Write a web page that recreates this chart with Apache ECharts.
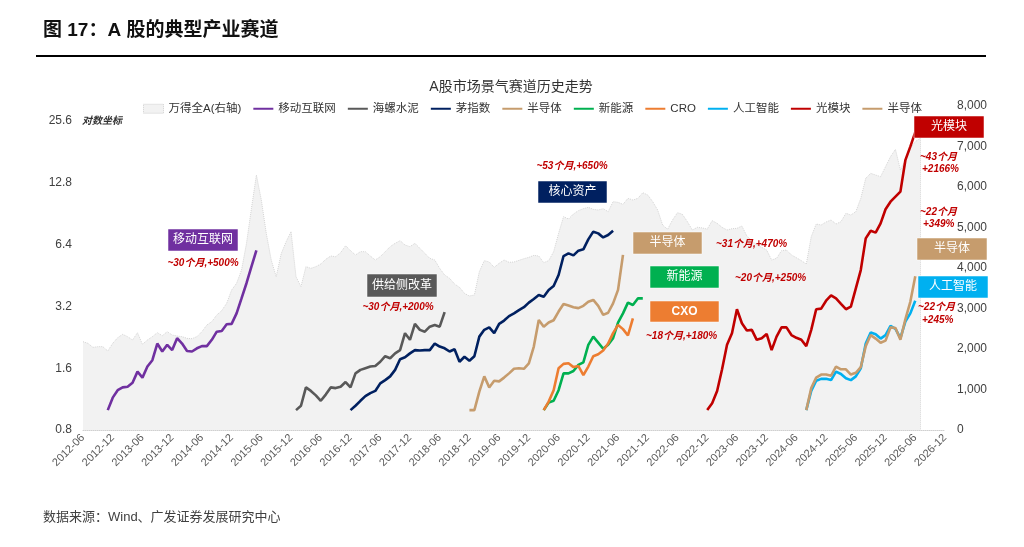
<!DOCTYPE html>
<html><head><meta charset="utf-8">
<script src="https://cdn.jsdelivr.net/npm/echarts@6/dist/echarts.min.js"></script>
<style>html,body{margin:0;padding:0;background:#fff}#c{width:1024px;height:547px}</style>
</head><body><div id="c"></div>
<script>
// ---- categories (monthly, 2012-06 .. 2026-12) ----
const months = [];
for (let i = 0; i < 175; i++) { const t = 2012 * 12 + 5 + i; months.push(Math.floor(t / 12) + '-' + String(t % 12 + 1).padStart(2, '0')); }

// ---- left (log) axis tick labels ----
const leftTicks = [0.8, 1.6, 3.2, 6.4, 12.8, 25.6];
const logUnit = leftTicks[0];

// ---- Wind All A (right axis), from 2012-06 ----
const windStart = '2012-06';
const windA = [2181,2140,2041,2058,2058,1951,2140,2280,2362,2305,2222,2403,2115,2222,2305,2403,2329,2428,2346,2321,
2305,2263,2255,2305,2428,2593,2675,2840,2947,3128,3457,3621,3951,4609,5473,6296,5679,4856,4198,3786,
4350,4650,4900,3786,3539,4033,3992,4033,4099,4214,4296,4280,4379,4551,4428,4321,4403,4403,4296,4198,
4280,4403,4527,4609,4675,4568,4527,4609,4486,4362,4239,4198,3992,3827,3745,3605,3523,3374,3309,3333,
3909,4181,4150,4016,4115,4198,4140,4148,4189,4230,4263,4313,4296,4132,4181,4403,4856,5267,5210,5333,
5416,5465,5498,5449,5432,5465,5391,5638,5621,5572,5720,5679,5720,5860,5802,5638,5432,5062,4955,5185,
5366,5325,5144,4938,5004,4990,4960,5169,5103,5004,4938,4971,4979,5037,4790,4675,4568,4510,4444,4198,
4239,4428,4444,4321,4255,4181,4099,4774,5086,5062,5136,5185,5086,5144,5350,5309,5391,5720,6214,6337,
6296,6255,6502,6749,6930,6420,6667,6955,7119,7202];

// ---- sector lines (left log axis), start month + values ----
const mobileStart = '2012-11';
const mobile = [1.00,1.15,1.25,1.29,1.30,1.36,1.54,1.44,1.63,1.75,2.11,1.93,2.08,1.96,2.24,2.11,1.94,1.93,2.00,2.05,2.05,2.20,2.41,2.43,2.62,2.63,2.96,3.50,4.15,5.00,6.00];
const conchStart = '2016-01';
const conch = [1.00,1.05,1.29,1.24,1.18,1.11,1.19,1.29,1.28,1.30,1.37,1.29,1.51,1.57,1.60,1.63,1.64,1.72,1.83,1.79,1.89,1.96,2.37,2.20,2.63,2.46,2.41,2.55,2.60,2.55,3.00];
const maoStart = '2016-12';
const mao = [1.00,1.05,1.11,1.17,1.21,1.24,1.35,1.40,1.46,1.57,1.77,1.81,1.89,1.96,1.95,1.96,1.96,2.11,2.04,2.00,1.93,1.98,1.72,1.82,1.74,1.83,2.28,2.46,2.53,2.37,2.63,
2.73,2.87,2.96,3.07,3.17,3.34,3.48,3.64,3.57,3.85,4.02,4.55,5.63,5.80,5.67,5.98,6.07,6.79,7.40,7.26,6.94,7.13,7.48];
const semi1Start = '2018-12';
const semi1 = [1.00,1.00,1.23,1.46,1.29,1.39,1.38,1.44,1.51,1.59,1.60,1.59,1.69,2.04,2.75,2.55,2.67,2.74,3.02,3.29,3.23,3.17,3.14,3.22,3.37,3.44,3.22,2.91,2.98,3.31,3.85,5.70];
const newEnergyStart = '2020-03';
const newEnergy = [1.00,1.09,1.11,1.25,1.51,1.51,1.55,1.66,1.71,2.08,2.28,2.13,1.99,2.08,2.24,2.67,2.96,3.34,3.25,3.50,3.50];
const cxoStart = '2020-03';
const cxo = [1.00,1.10,1.25,1.60,1.68,1.69,1.62,1.64,1.48,1.63,1.83,1.87,1.95,2.11,2.37,2.60,2.48,2.31,2.80];
const aiStart = '2024-08';
const ai = [1.00,1.24,1.39,1.42,1.42,1.40,1.54,1.50,1.43,1.40,1.46,1.60,2.11,2.39,2.34,2.23,2.32,2.57,2.49,2.24,2.70,2.96,3.41];
const opticStart = '2022-12';
const optic = [1.00,1.08,1.24,1.58,2.08,2.37,3.10,2.65,2.44,2.46,2.20,2.24,2.35,1.96,2.28,2.53,2.53,2.32,2.25,2.20,2.05,2.46,3.10,3.12,3.41,3.62,3.50,3.29,3.10,3.19,3.92,4.81,6.86,7.48,7.32,8.12,9.51,10.36,10.96,11.59,16.5,19.2,22.6];
const semi2Start = '2024-08';
const semi2 = [1.00,1.28,1.44,1.49,1.49,1.47,1.63,1.58,1.58,1.49,1.52,1.62,2.05,2.32,2.23,2.13,2.18,2.53,2.51,2.20,2.77,3.37,4.49];

// ---- right axis ----
const rightMin = 0, rightMax = 8000, rightStep = 1000;

function place(start, vals, scale) {
  const out = months.map(() => '-');
  const s = months.indexOf(start);
  vals.forEach((v, i) => { out[s + i] = scale ? v / scale : v; });
  return out;
}

const FONT = '"Liberation Sans", "Noto Sans CJK SC", sans-serif';
const chart = echarts.init(document.getElementById('c'), null, { renderer: 'canvas' });

function lineSeries(name, color, start, vals) {
  return { name, type: 'line', yAxisIndex: 0, data: place(start, vals, logUnit), symbol: 'none', showSymbol: false,
    lineStyle: { color, width: 2.6 }, itemStyle: { color }, emphasis: { disabled: true }, connectNulls: false, z: 3 };
}

const windData = place(windStart, windA);
const windLast = months.indexOf(windStart) + windA.length - 1;

function box(x, y, w, h, color, text, bold) {
  return [
    { type: 'rect', shape: { x, y, width: w, height: h }, style: { fill: color, stroke: 'rgba(255,255,255,0.5)', lineWidth: 1 }, z: 100 },
    { type: 'text', x: x + w / 2, y: y + h / 2, style: { text, fill: '#fff', font: (bold ? 'bold ' : '') + '12px ' + FONT, align: 'center', verticalAlign: 'middle' }, z: 101 }
  ];
}
function note(x, y, text, align) {
  return { type: 'text', x, y, style: { text, fill: '#c00000', font: 'italic bold 10px ' + FONT, align: align || 'left', verticalAlign: 'middle' }, z: 101 };
}

const option = {
  animation: false,
  textStyle: { fontFamily: FONT },
  title: { text: 'A股市场景气赛道历史走势', left: 506, textAlign: 'center', top: 75, textStyle: { fontSize: 14, fontWeight: 'normal', color: '#333', fontFamily: FONT } },
  legend: {
    top: 98, left: 138, itemWidth: 20, itemHeight: 9, itemGap: 11,
    textStyle: { fontSize: 11.5, color: '#333', fontFamily: FONT },
    itemStyle: { opacity: 0 },
    formatter: n => n.trim(),
    data: [
      { name: '万得全A(右轴)', icon: 'rect', itemStyle: { color: '#f2f2f2', borderColor: '#cfcfcf', borderWidth: 1, borderType: 'dotted', opacity: 1 } },
      '移动互联网', '海螺水泥', '茅指数', '半导体', '新能源', 'CRO', '人工智能', '光模块', '半导体 '
    ]
  },
  grid: { left: 83, right: 79, top: 106, bottom: 117, containLabel: false },
  xAxis: {
    type: 'category', data: months, boundaryGap: false,
    axisLine: { lineStyle: { color: '#d0d0d0', type: 'dotted', width: 1 } },
    axisTick: { show: false },
    axisLabel: { interval: 5, rotate: 45, fontSize: 11, color: '#595959', margin: 6, fontFamily: FONT },
    splitLine: { show: false }
  },
  yAxis: [
    { type: 'log', logBase: 2, min: 1, max: 37.87, position: 'left',
      axisLine: { show: false }, axisTick: { show: false }, splitLine: { show: false },
      axisLabel: { color: '#404040', fontSize: 12, margin: 11, showMaxLabel: false, fontFamily: FONT,
        formatter: v => { const r = v * logUnit; const hit = leftTicks.find(t => Math.abs(t - r) < 0.05); return hit !== undefined ? hit.toFixed(1) : ''; } } },
    { type: 'value', min: rightMin, max: rightMax, interval: rightStep, position: 'right',
      axisLine: { show: false }, axisTick: { show: false }, splitLine: { show: false },
      axisLabel: { color: '#404040', fontSize: 12, margin: 12, fontFamily: FONT, formatter: v => v.toLocaleString('en-US') } }
  ],
  series: [
    { name: '万得全A(右轴)', type: 'line', yAxisIndex: 1, data: windData, symbol: 'none', showSymbol: false,
      lineStyle: { color: '#d4d4d4', width: 1, type: 'dotted' }, itemStyle: { color: '#f2f2f2' },
      areaStyle: { color: '#f2f2f2', opacity: 1 }, emphasis: { disabled: true }, z: 1,
      markLine: { silent: true, symbol: 'none', label: { show: false }, lineStyle: { color: '#d4d4d4', type: 'dotted', width: 1 },
        data: [[{ coord: [months[windLast], windA[windA.length - 1]] }, { coord: [months[windLast], 0] }]] } },
    lineSeries('移动互联网', '#7030a0', mobileStart, mobile),
    lineSeries('海螺水泥', '#595959', conchStart, conch),
    lineSeries('茅指数', '#002060', maoStart, mao),
    lineSeries('半导体', '#c69c6d', semi1Start, semi1),
    lineSeries('新能源', '#00b050', newEnergyStart, newEnergy),
    lineSeries('CRO', '#ed7d31', cxoStart, cxo),
    lineSeries('人工智能', '#00b0f0', aiStart, ai),
    lineSeries('光模块', '#c00000', opticStart, optic),
    lineSeries('半导体 ', '#c69c6d', semi2Start, semi2)
  ],
  graphic: [].concat(
    [{ type: 'text', x: 43, y: 31, style: { text: '图 17：A 股的典型产业赛道', fill: '#111', font: 'bold 19px ' + FONT, verticalAlign: 'middle' } },
     { type: 'line', shape: { x1: 36, y1: 56, x2: 986, y2: 56 }, style: { stroke: '#000', lineWidth: 2 } },
     { type: 'text', x: 43, y: 517, style: { text: '数据来源：Wind、广发证券发展研究中心', fill: '#404040', font: '13px ' + FONT, verticalAlign: 'middle' } },
     { type: 'text', x: 82, y: 121, style: { text: '对数坐标', fill: '#333', font: 'italic bold 10px ' + FONT, verticalAlign: 'middle' } }],
    box(168, 229, 70, 22, '#7030a0', '移动互联网'),
    box(367, 274, 70, 23, '#595959', '供给侧改革'),
    box(538, 181, 69, 22, '#002060', '核心资产'),
    box(633, 232, 69, 22, '#c69c6d', '半导体'),
    box(650, 266, 69, 22, '#00b050', '新能源'),
    box(650, 301, 69, 21, '#ed7d31', 'CXO', true),
    box(914, 116, 70, 22, '#c00000', '光模块'),
    box(917, 238, 70, 22, '#c69c6d', '半导体'),
    box(918, 276, 70, 22, '#00b0f0', '人工智能'),
    [note(203, 263, '~30个月,+500%', 'center'),
     note(398, 307, '~30个月,+200%', 'center'),
     note(572, 166, '~53个月,+650%', 'center'),
     note(716, 244, '~31个月,+470%'),
     note(735, 278, '~20个月,+250%'),
     note(646, 336, '~18个月,+180%'),
     note(920, 157, '~43个月'), note(922, 169, '+2166%'),
     note(920, 212, '~22个月'), note(923, 224, '+349%'),
     note(918, 307, '~22个月'), note(922, 320, '+245%')]
  )
};
chart.setOption(option);
</script></body></html>
